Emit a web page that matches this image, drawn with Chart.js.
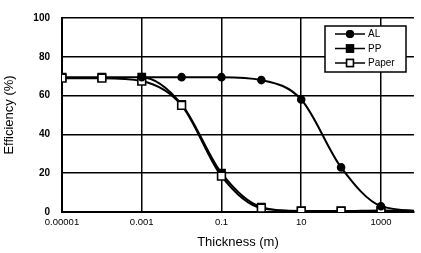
<!DOCTYPE html>
<html>
<head>
<meta charset="utf-8">
<script src="https://cdn.jsdelivr.net/npm/chart.js@4.4.1/dist/chart.umd.min.js"></script>
<style>
  html, body { margin: 0; padding: 0; background: #fff; }
  #wrap { width: 421px; height: 253px; }
</style>
</head>
<body>
<div id="wrap"><canvas id="effChart" width="421" height="253"></canvas></div>
<script>
// values
const thickness = [0.00001, 0.0001, 0.001, 0.01, 0.1, 1, 10, 100, 1000, 10000]
const alEff    = [null, null, 69.5, 69.5, 69.5, 68, 58, 23, 3, 0.5]
const ppEff    = [69.5, 69.5, 69.5, 55.5, 20, 2.5, 0.5, 0.5, 0.8, 0.5]
const paperEff = [69, 69, 67.5, 55, 18.5, 2, 0.5, 0.5, 0.5, 0.5]

const xTicks = [0.00001, 0.001, 0.1, 10, 1000]
const xTickLabels = ['0.00001', '0.001', '0.1', '10', '1000']
const yTicks = [0, 20, 40, 60, 80, 100]

const toPoints = (vals) => thickness
  .map((t, i) => ({ x: t, y: vals[i] }))
  .filter(p => p.y !== null)

const font = 'Liberation Sans, Arial, sans-serif'

// legend box drawn inside the plot, top right
const boxLegend = {
  id: 'boxLegend',
  afterDraw(chart) {
    const ctx = chart.ctx
    const x0 = 325, y0 = 26, w = 81, h = 46
    ctx.save()
    ctx.fillStyle = '#fff'
    ctx.fillRect(x0, y0, w, h)
    ctx.strokeStyle = '#000'
    ctx.lineWidth = 1.5
    ctx.strokeRect(x0, y0, w, h)
    chart.data.datasets.forEach((ds, i) => {
      const y = y0 + 8 + i * 14.5
      ctx.beginPath()
      ctx.moveTo(x0 + 10, y)
      ctx.lineTo(x0 + 40, y)
      ctx.lineWidth = 1.5
      ctx.strokeStyle = '#000'
      ctx.stroke()
      Chart.helpers.drawPoint(ctx, {
        pointStyle: ds.pointStyle,
        radius: ds.pointStyle === 'circle' ? 3.3 : 4.8,
        borderWidth: 1.5,
        rotation: 0
      }, x0 + 25, y)
      ctx.fillStyle = ds.pointBackgroundColor
      ctx.strokeStyle = '#000'
      ctx.fill()
      ctx.stroke()
      ctx.fillStyle = '#000'
      ctx.font = '10px ' + font
      ctx.textBaseline = 'middle'
      ctx.textAlign = 'left'
      ctx.fillText(ds.label, x0 + 43, y + 0.5)
    })
    ctx.restore()
  }
}

const ctx = document.getElementById('effChart').getContext('2d')
const myChart = new Chart(ctx, {
  type: 'line',
  data: {
    datasets: [{
      label: 'AL',
      data: toPoints(alEff),
      borderColor: '#000',
      borderWidth: 2,
      pointStyle: 'circle',
      pointRadius: 3.3,
      pointBackgroundColor: '#000',
      pointBorderColor: '#000',
      cubicInterpolationMode: 'monotone',
      order: 0
    }, {
      label: 'PP',
      data: toPoints(ppEff),
      borderColor: '#000',
      borderWidth: 2,
      pointStyle: 'rect',
      pointRadius: 4.8,
      pointBackgroundColor: '#000',
      pointBorderColor: '#000',
      cubicInterpolationMode: 'monotone',
      order: 2
    }, {
      label: 'Paper',
      data: toPoints(paperEff),
      borderColor: '#000',
      borderWidth: 2,
      pointStyle: 'rect',
      pointRadius: 5.5,
      pointBorderWidth: 1.6,
      pointBackgroundColor: '#fff',
      pointBorderColor: '#000',
      cubicInterpolationMode: 'monotone',
      order: 1
    }]
  },
  options: {
    responsive: false,
    animation: false,
    layout: { padding: { left: 0, right: 6, top: 12, bottom: 0 } },
    plugins: {
      legend: { display: false },
      tooltip: { enabled: false }
    },
    scales: {
      x: {
        type: 'logarithmic',
        min: 0.00001,
        max: 6700,
        afterBuildTicks: (scale) => { scale.ticks = xTicks.map(v => ({ value: v })) },
        afterFit: (scale) => { scale.height = 41 },
        ticks: {
          autoSkip: false,
          maxRotation: 0,
          padding: 5,
          color: '#000',
          font: { family: font, size: 9.5 },
          callback: (v) => {
            const i = xTicks.findIndex(t => Math.abs(t - v) / t < 1e-6)
            return i >= 0 ? xTickLabels[i] : ''
          }
        },
        grid: { color: '#000', lineWidth: 1.5, drawTicks: false },
        border: { color: '#000', width: 2 },
        title: {
          display: true,
          text: 'Thickness (m)',
          color: '#000',
          font: { family: font, size: 13 },
          padding: { top: 0, bottom: 3 }
        }
      },
      y: {
        min: 0,
        max: 100,
        afterBuildTicks: (scale) => { scale.ticks = yTicks.map(v => ({ value: v })) },
        afterFit: (scale) => { scale.width = 62 },
        ticks: {
          padding: 12,
          color: '#000',
          font: { family: font, size: 10, weight: 'bold' }
        },
        grid: { color: '#000', lineWidth: 1.5, drawTicks: false },
        border: { color: '#000', width: 2 },
        title: {
          display: true,
          text: 'Efficiency (%)',
          color: '#000',
          font: { family: font, size: 13 },
          padding: { top: 2, bottom: 0 }
        }
      }
    }
  },
  plugins: [boxLegend]
})
</script>
</body>
</html>
